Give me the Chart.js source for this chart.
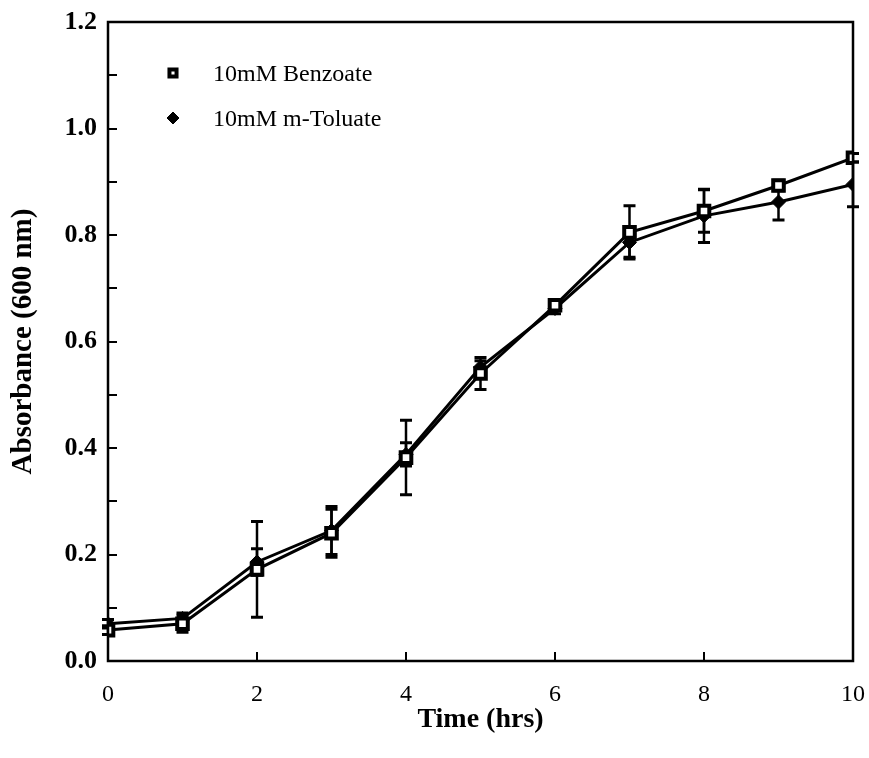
<!DOCTYPE html>
<html>
<head>
    <title>Growth on Benzoate and m-Toluate</title>
    <script src="https://cdn.jsdelivr.net/npm/chart.js"></script>
    <style>
        body { margin: 0; background: #fff; }
    </style>
</head>
<body>
    <canvas id="growthChart" width="869" height="758"></canvas>
    <script>
        // sampling times and mean absorbance readings with their errors
        const hours = [0, 1, 2, 3, 4, 5, 6, 7, 8, 9, 10];
        const benzoate = [0.058, 0.070, 0.172, 0.240, 0.382, 0.540, 0.668, 0.805, 0.845, 0.893, 0.945];
        const benzoateErr = [0.008, 0.016, 0.090, 0.045, 0.070, 0.030, 0.010, 0.050, 0.040, 0.010, 0.008];
        const toluate = [0.070, 0.080, 0.186, 0.245, 0.388, 0.552, 0.662, 0.786, 0.836, 0.862, 0.895];
        const toluateErr = [0.008, 0.010, 0.025, 0.045, 0.022, 0.012, 0.010, 0.028, 0.050, 0.034, 0.042];
        const seriesLabels = ['10mM Benzoate', '10mM m-Toluate'];
        const errorSets = [benzoateErr, toluateErr];

        const serif = "'Liberation Serif', 'Times New Roman', serif";

        const points = vals => vals.map((v, i) => ({x: hours[i], y: v}));

        // box around the plot, inward ticks, error bars and the inset key
        const decorations = {
            id: 'decorations',
            beforeDatasetsDraw(chart) {
                const {ctx, scales: {x, y}} = chart;
                ctx.save();
                ctx.strokeStyle = '#000';
                chart.data.datasets.forEach((ds, i) => {
                    const errs = errorSets[i];
                    ds.data.forEach((p, j) => {
                        const px = x.getPixelForValue(p.x);
                        const top = y.getPixelForValue(p.y + errs[j]);
                        const bot = y.getPixelForValue(p.y - errs[j]);
                        ctx.lineWidth = 2.5;
                        ctx.beginPath();
                        ctx.moveTo(px, top);
                        ctx.lineTo(px, bot);
                        ctx.stroke();
                        ctx.lineWidth = 3;
                        ctx.beginPath();
                        ctx.moveTo(px - 6, top);
                        ctx.lineTo(px + 6, top);
                        ctx.moveTo(px - 6, bot);
                        ctx.lineTo(px + 6, bot);
                        ctx.stroke();
                    });
                });
                ctx.restore();
            },
            afterDraw(chart) {
                const {ctx, chartArea: a, scales: {x, y}} = chart;
                ctx.save();
                ctx.strokeStyle = '#000';
                ctx.lineWidth = 2.5;
                ctx.strokeRect(a.left, a.top, a.right - a.left, a.bottom - a.top);

                ctx.lineWidth = 2;
                ctx.beginPath();
                for (let v = 0.1; v < 1.19; v += 0.1) {
                    const py = Math.round(y.getPixelForValue(v));
                    ctx.moveTo(a.left, py);
                    ctx.lineTo(a.left + 9, py);
                }
                for (let t = 2; t < 10; t += 2) {
                    const px = Math.round(x.getPixelForValue(t));
                    ctx.moveTo(px, a.bottom);
                    ctx.lineTo(px, a.bottom - 9);
                }
                ctx.stroke();

                // key in the upper left corner
                const keyX = a.left + 65;
                const keyY = a.top + 51;
                ctx.font = '24px ' + serif;
                ctx.textBaseline = 'middle';
                chart.data.datasets.forEach((ds, i) => {
                    const cy = keyY + i * 45;
                    ctx.fillStyle = ds.pointBackgroundColor;
                    ctx.strokeStyle = '#000';
                    ctx.lineWidth = ds.pointBorderWidth;
                    Chart.helpers.drawPoint(ctx, {
                        pointStyle: ds.pointStyle,
                        radius: i === 0 ? 5 : 6,
                        rotation: 0,
                        borderWidth: ds.pointBorderWidth
                    }, keyX, cy);
                    ctx.fillStyle = '#000';
                    ctx.fillText(ds.label, keyX + 40, cy + 2);
                });
                ctx.restore();
            }
        };

        const ctx = document.getElementById('growthChart').getContext('2d');
        new Chart(ctx, {
            type: 'line',
            data: {
                datasets: [
                    {
                        label: seriesLabels[0],
                        data: points(benzoate),
                        borderColor: '#000',
                        borderWidth: 3,
                        pointStyle: 'rect',
                        pointRadius: 7.5,
                        pointBackgroundColor: '#fff',
                        pointBorderColor: '#000',
                        pointBorderWidth: 4,
                        tension: 0,
                        fill: false
                    },
                    {
                        label: seriesLabels[1],
                        data: points(toluate),
                        borderColor: '#000',
                        borderWidth: 3,
                        pointStyle: 'rectRot',
                        pointRadius: 7,
                        pointBackgroundColor: '#000',
                        pointBorderColor: '#000',
                        pointBorderWidth: 1,
                        tension: 0,
                        fill: false
                    }
                ]
            },
            options: {
                responsive: false,
                animation: false,
                layout: { padding: { left: 0, right: 16, top: 22, bottom: 0 } },
                plugins: {
                    legend: { display: false },
                    tooltip: { enabled: false }
                },
                scales: {
                    x: {
                        type: 'linear',
                        min: 0,
                        max: 10,
                        grid: { display: false, drawTicks: false },
                        border: { display: false },
                        ticks: {
                            stepSize: 2,
                            color: '#000',
                            padding: 19,
                            font: { family: serif, size: 24 }
                        },
                        title: {
                            display: true,
                            text: 'Time (hrs)',
                            color: '#000',
                            padding: { top: 0, bottom: 21 },
                            font: { family: serif, size: 28, weight: 'bold' }
                        },
                        afterFit(scale) {
                            scale.height = 97;
                            scale.paddingRight = 0;
                        }
                    },
                    y: {
                        min: 0,
                        max: 1.2,
                        grid: { display: false, drawTicks: false },
                        border: { display: false },
                        ticks: {
                            stepSize: 0.2,
                            color: '#000',
                            padding: 11,
                            font: { family: serif, size: 26, weight: 'bold' },
                            callback: v => v.toFixed(1)
                        },
                        title: {
                            display: true,
                            text: 'Absorbance (600 nm)',
                            color: '#000',
                            padding: { top: 6, bottom: 0 },
                            font: { family: serif, size: 29, weight: 'bold' }
                        },
                        afterFit(scale) {
                            scale.width = 108;
                            scale.paddingTop = 0;
                            scale.paddingBottom = 0;
                        }
                    }
                }
            },
            plugins: [decorations]
        });
    </script>
</body>
</html>
